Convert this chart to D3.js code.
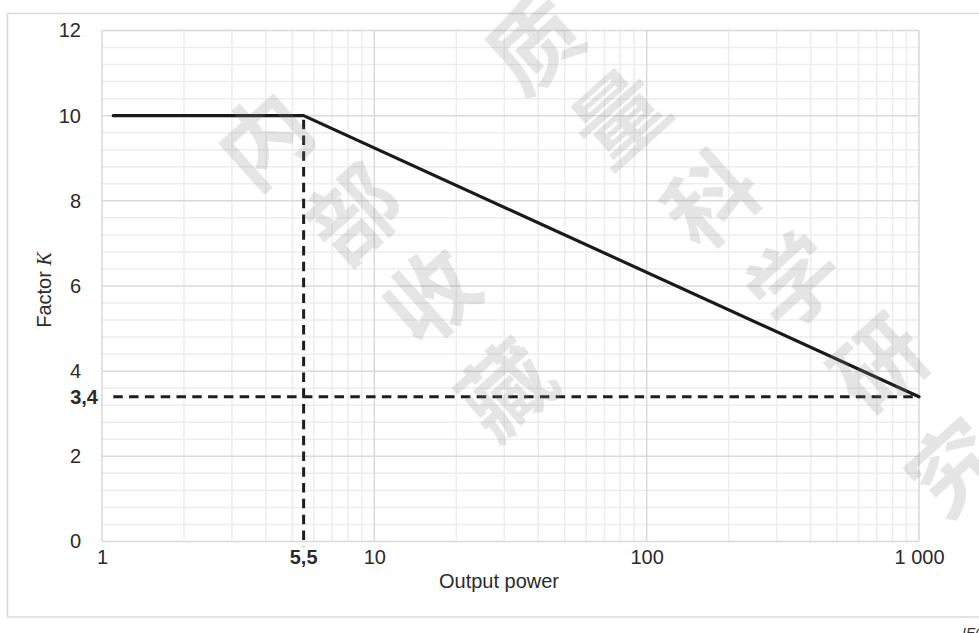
<!DOCTYPE html>
<html><head><meta charset="utf-8">
<script src="https://cdn.jsdelivr.net/npm/d3@7"></script>
<style>body{margin:0;background:#fff}svg{display:block}</style>
</head><body><svg id="c" width="979" height="633"></svg>
<script>
// ---- data ----
const xTicks = [1, 10, 100, 1000];
const xTickLabels = ["1", "10", "100", "1 000"];
const yTicks = [0, 2, 4, 6, 8, 10, 12];
const yTickLabels = ["0", "2", "4", "6", "8", "10", "12"];
const curveX = [1.1, 5.5, 1000];
const curveY = [10, 10, 3.4];
const markX = [5.5];
const markXLabel = ["5,5"];
const markY = [3.4];
const markYLabel = ["3,4"];
const xTitle = "Output power";
const yTitle = "Factor ";
const yTitleItalic = "K";
const watermark1 = ["质", "量", "科", "学", "研", "究"];
const watermark2 = ["内", "部", "收", "藏"];

const svg = d3.select("#c");
const L = 102, R = 919, T = 30.5, B = 541.5;
const x = d3.scaleLog().domain([1, 1000]).range([L, R]);
const y = d3.scaleLinear().domain([0, 12]).range([B, T]);
const FONT = "'Liberation Sans', Arial, sans-serif";
const TXT = "#2b2b2b";

// outer frame
svg.append("rect").attr("x", 7.5).attr("y", 13.5).attr("width", 1000).attr("height", 603.5)
  .attr("fill", "none").attr("stroke", "#d9d9d9").attr("stroke-width", 1.5);

// minor grid
const minorX = [];
[1, 10, 100].forEach(d => { for (let k = 2; k <= 9; k++) minorX.push(d * k); });
const minorY = d3.range(0, 61).map(i => i * 0.2).filter(v => Math.abs(v / 0.4 - Math.round(v / 0.4)) < 1e-6 && Math.abs(v / 2 - Math.round(v / 2)) > 1e-6);
const g = svg.append("g");
g.selectAll(".mx").data(minorX).join("line")
  .attr("x1", d => x(d)).attr("x2", d => x(d)).attr("y1", T).attr("y2", B)
  .attr("stroke", "#ededed").attr("stroke-width", 1.5);
g.selectAll(".my").data(minorY).join("line")
  .attr("x1", L).attr("x2", R).attr("y1", d => y(d)).attr("y2", d => y(d))
  .attr("stroke", "#ededed").attr("stroke-width", 1.5);
// major grid
g.selectAll(".Mx").data(xTicks).join("line")
  .attr("x1", d => x(d)).attr("x2", d => x(d)).attr("y1", T).attr("y2", B)
  .attr("stroke", "#d9d9d9").attr("stroke-width", 1.5);
g.selectAll(".My").data(yTicks).join("line")
  .attr("x1", L).attr("x2", R).attr("y1", d => y(d)).attr("y2", d => y(d))
  .attr("stroke", "#d9d9d9").attr("stroke-width", 1.5);

// axes (labels only)
const xAxis = d3.axisBottom(x).tickValues(xTicks).tickSize(0).tickPadding(8.5)
  .tickFormat((d, i) => xTickLabels[i]);
const gx = svg.append("g").attr("transform", `translate(0,${B})`).call(xAxis);
gx.select(".domain").remove();
gx.selectAll("text").attr("font-family", FONT).attr("font-size", 20).attr("fill", TXT);

const yAxis = d3.axisLeft(y).tickValues(yTicks).tickSize(0).tickPadding(21)
  .tickFormat((d, i) => yTickLabels[i]);
const gy = svg.append("g").attr("transform", `translate(${L},0)`).call(yAxis);
gy.select(".domain").remove();
gy.selectAll("text").attr("font-family", FONT).attr("font-size", 20).attr("fill", TXT);

// reference dashed lines
svg.selectAll(".vd").data(markX).join("line")
  .attr("x1", d => x(d)).attr("x2", d => x(d)).attr("y1", y(10) + 4).attr("y2", B + 5)
  .attr("stroke", "#1e1e1e").attr("stroke-width", 3).attr("stroke-dasharray", "9.5,6.3");
svg.selectAll(".hd").data(markY).join("line")
  .attr("x1", x(curveX[0])).attr("x2", R).attr("y1", d => y(d)).attr("y2", d => y(d))
  .attr("stroke", "#1e1e1e").attr("stroke-width", 3).attr("stroke-dasharray", "9.5,6.3");

// main curve
const pts = curveX.map((v, i) => [v, curveY[i]]);
svg.append("path").datum(pts)
  .attr("d", d3.line().x(d => x(d[0])).y(d => y(d[1])))
  .attr("fill", "none").attr("stroke", "#1a1a1a").attr("stroke-width", 3.2)
  .attr("stroke-linecap", "round").attr("stroke-linejoin", "round");

// bold marker labels
svg.selectAll(".mxl").data(markX).join("text")
  .attr("x", d => x(d)).attr("y", B + 8.5).attr("dy", "0.71em")
  .attr("text-anchor", "middle").attr("font-family", FONT).attr("font-size", 20)
  .attr("font-weight", "bold").attr("fill", TXT).text((d, i) => markXLabel[i]);
svg.selectAll(".myl").data(markY).join("text")
  .attr("x", L - 4).attr("y", d => y(d)).attr("dy", "0.34em")
  .attr("text-anchor", "end").attr("font-family", FONT).attr("font-size", 20)
  .attr("font-weight", "bold").attr("fill", TXT).text((d, i) => markYLabel[i]);

// axis titles
svg.append("text").attr("x", 499).attr("y", 587.5).attr("text-anchor", "middle")
  .attr("font-family", FONT).attr("font-size", 20).attr("fill", TXT).text(xTitle);
const yt = svg.append("text").attr("transform", "translate(51,290) rotate(-90)")
  .attr("text-anchor", "middle").attr("font-family", FONT).attr("font-size", 20).attr("fill", TXT);
yt.append("tspan").text(yTitle);
yt.append("tspan").attr("font-style", "italic").attr("font-family", "'Liberation Serif', 'Times New Roman', serif").text(yTitleItalic);

// footer (cut off at the edge, as in the source)
svg.append("text").attr("x", 962).attr("y", 638).attr("font-family", FONT).attr("font-size", 14)
  .attr("font-style", "italic").attr("fill", "#333").text("IEC");

// watermark
const wmPos1 = [[535, 45], [620, 118], [712, 200], [795, 282], [880, 365], [955, 468]];
const wmPos2 = [[265, 140], [355, 215], [432, 297], [507, 390]];
const wm = svg.append("g").attr("font-family", "'Noto Sans CJK SC', sans-serif")
  .attr("font-size", 90).attr("font-weight", 700).attr("fill", "#8a8a8a").attr("fill-opacity", 0.22)
  .attr("text-anchor", "middle");
wm.selectAll(".w1").data(watermark1).join("text")
  .attr("transform", (d, i) => `translate(${wmPos1[i][0]},${wmPos1[i][1]}) rotate(-42)`)
  .attr("dy", "0.36em").text(d => d);
wm.selectAll(".w2").data(watermark2).join("text")
  .attr("transform", (d, i) => `translate(${wmPos2[i][0]},${wmPos2[i][1]}) rotate(-42)`)
  .attr("dy", "0.36em").text(d => d);
</script></body></html>
